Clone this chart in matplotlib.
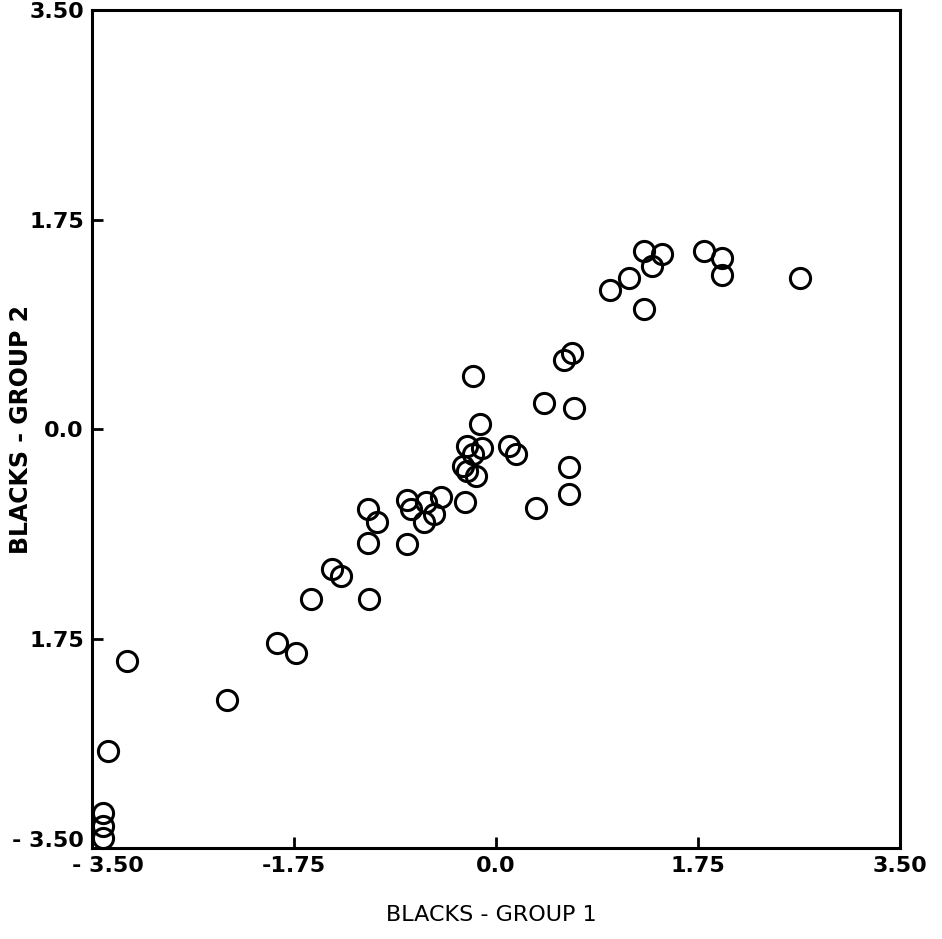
import matplotlib
matplotlib.use("Agg")
import matplotlib.pyplot as plt
import matplotlib.transforms as mtransforms

# scores of each item for the two groups
group1 = [-3.41, -3.41, -3.41, -3.36, -3.20, -2.33, -1.90, -1.73,
          -1.60, -1.42, -1.34, -1.10, -1.11, -1.11, -1.03, -0.77,
          -0.77, -0.74, -0.61, -0.48, -0.54, -0.62, -0.27,
          -0.20, -0.14, -0.25, -0.12, -0.20, -0.29, -0.25, -0.17,
          0.11, 0.17, 0.35, 0.42, 0.63, 0.63, 0.68, 0.59, 0.66,
          0.99, 1.15, 1.28, 1.35, 1.44, 1.28, 1.80, 1.96, 1.96, 2.64]
group2 = [-3.21, -3.32, -3.42, -2.69, -1.94, -2.26, -1.79, -1.87,
          -1.42, -1.17, -1.23, -1.42, -0.95, -0.67, -0.78, -0.96,
          -0.59, -0.67, -0.61, -0.57, -0.71, -0.78, -0.61,
          0.44, 0.04, -0.14, -0.16, -0.21, -0.31, -0.35, -0.39,
          -0.14, -0.21, -0.66, 0.22, -0.32, -0.54, 0.18, 0.58, 0.64,
          1.16, 1.26, 1.49, 1.36, 1.46, 1.00, 1.49, 1.43, 1.29, 1.26]

tick_pos = [-3.5, -1.75, 0.0, 1.75, 3.5]
xtick_labels = ["- 3.50", "-1.75", "0.0", "1.75", "3.50"]
ytick_labels = ["- 3.50", "1.75", "0.0", "1.75", "3.50"]

fig = plt.figure(figsize=(9.42, 9.39), dpi=100)
ax = fig.add_axes([0.098, 0.097, 0.857, 0.892])

ax.plot(group1, group2, linestyle="none", marker="o", markersize=14.5,
        markerfacecolor="none", markeredgecolor="black", markeredgewidth=2.2,
        clip_on=False)

ax.set_xlim(-3.5, 3.5)
ax.set_ylim(-3.5, 3.5)
ax.set_xticks(tick_pos)
ax.set_yticks(tick_pos)
ax.set_xticklabels(xtick_labels)
ax.set_yticklabels(ytick_labels)
ax.tick_params(direction="in", length=8, width=2, pad=6, labelsize=16)
for lab in ax.get_xticklabels() + ax.get_yticklabels():
    lab.set_fontweight("bold")

# nudge the corner labels apart so they do not collide
xl0 = ax.get_xticklabels()[0]
xl0.set_transform(xl0.get_transform() +
                  mtransforms.ScaledTranslation(0.16, 0, fig.dpi_scale_trans))
yl0 = ax.get_yticklabels()[0]
yl0.set_transform(yl0.get_transform() +
                  mtransforms.ScaledTranslation(0, 0.09, fig.dpi_scale_trans))

for sp in ax.spines.values():
    sp.set_linewidth(2.2)

fig.text(0.522, 0.026, "BLACKS - GROUP 1", fontsize=16, ha="center", va="center")
fig.text(0.022, 0.543, "BLACKS - GROUP 2", fontsize=17, fontweight="bold",
         rotation=90, ha="center", va="center")

fig.savefig("out.png", dpi=100, facecolor="white")
